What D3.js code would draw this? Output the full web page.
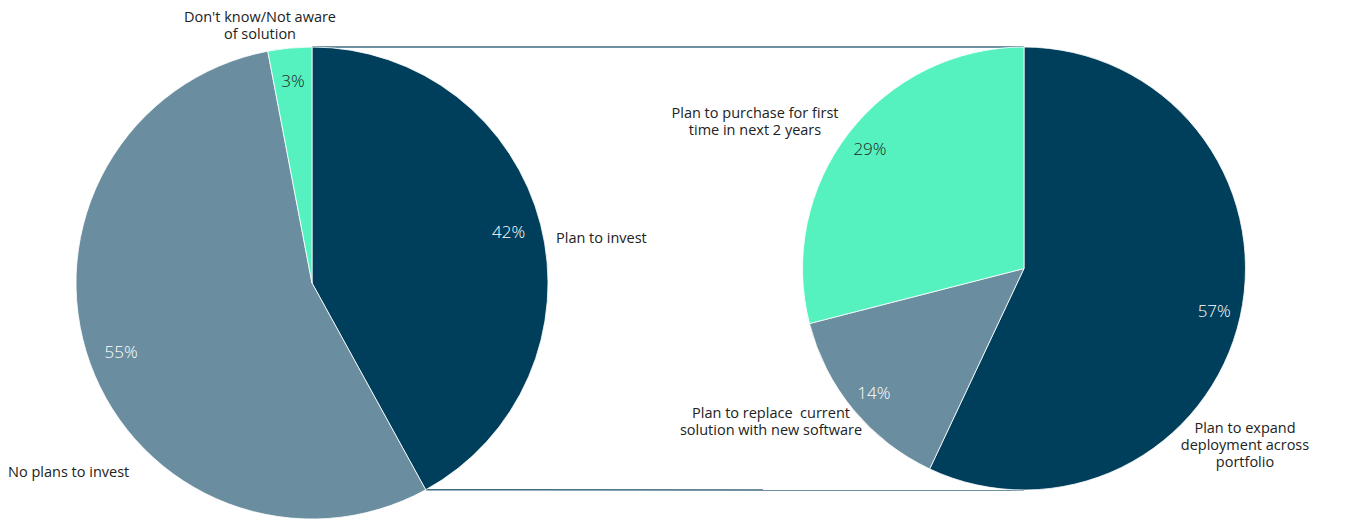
<!DOCTYPE html>
<html>
<head>
<meta charset="utf-8">
<script src="https://cdnjs.cloudflare.com/ajax/libs/d3/7.8.5/d3.min.js"></script>
<style>
  body { margin: 0; background: #fff; }
  svg { display: block; font-family: "Open Sans", sans-serif; }
  .lbl { font-size: 14.5px; fill: #222; white-space: pre; }
  .pct { font-size: 17px; font-weight: 300; }
</style>
</head>
<body>
<svg id="chart" width="1346" height="520"></svg>
<script>
// left pie: overall intention
const mainCategories = ["Plan to invest", "No plans to invest", "Don't know/Not aware of solution"];
const mainValues = [42, 55, 3];
// right pie: breakdown of "Plan to invest"
const detailCategories = ["Plan to expand deployment across portfolio", "Plan to replace  current solution with new software", "Plan to purchase for first time in next 2 years"];
const detailValues = [57, 14, 29];

const colors = ["#003f5c", "#6a8e9f", "#55f2c0"];
const pctColors = ["#fff", "#fff", "#222"];

const svg = d3.select("#chart");

const LEFT = { cx: 312, cy: 283, r: 236 };
const RIGHT = { cx: 1024, cy: 268.5, r: 221.5 };

const pie = d3.pie().sort(null).value(d => d);

// label layout (text placement for category names), per slice
const mainLabelPos = [
  { x: 556, y: 238, anchor: "start" },
  { x: 8, y: 472, anchor: "start" },
  { x: 260, y: 16.5, anchor: "middle" }
];
const mainLabelLines = [["Plan to invest"], ["No plans to invest"], ["Don't know/Not aware", "of solution"]];
const detailLabelPos = [
  { x: 1245, y: 428, anchor: "middle" },
  { x: 771, y: 413, anchor: "middle" },
  { x: 755, y: 113, anchor: "middle" }
];
const detailLabelLines = [["Plan to expand", "deployment across", "portfolio"], ["Plan to replace  current", "solution with new software"], ["Plan to purchase for first", "time in next 2 years"]];

function drawPie(values, cfg, pctRatio, labelPos, labelLines) {
  const arcs = pie(values);
  const arc = d3.arc().innerRadius(0).outerRadius(cfg.r);
  const pctArc = d3.arc().innerRadius(cfg.r * pctRatio).outerRadius(cfg.r * pctRatio);
  const g = svg.append("g").attr("transform", `translate(${cfg.cx},${cfg.cy})`);

  g.selectAll("path")
    .data(arcs)
    .enter()
    .append("path")
    .attr("d", arc)
    .attr("fill", (d, i) => colors[i])
    .attr("stroke", "#fff")
    .attr("stroke-width", 0.8);

  g.selectAll("text.pct")
    .data(arcs)
    .enter()
    .append("text")
    .attr("class", "pct")
    .attr("transform", d => "translate(" + pctArc.centroid(d) + ")")
    .attr("text-anchor", "middle")
    .attr("dy", "0.35em")
    .attr("fill", (d, i) => pctColors[i])
    .text(d => d.data + "%");

  labelLines.forEach((lines, i) => {
    const t = svg.append("text")
      .attr("class", "lbl")
      .attr("text-anchor", labelPos[i].anchor);
    lines.forEach((ln, j) => {
      t.append("tspan")
        .attr("x", labelPos[i].x)
        .attr("y", labelPos[i].y + j * 17)
        .attr("dy", "0.35em")
        .text(ln);
    });
  });
  return arcs;
}

const mainArcs = drawPie(mainValues, LEFT, 0.86, mainLabelPos, mainLabelLines);
drawPie(detailValues, RIGHT, 0.88, detailLabelPos, detailLabelLines);

// connector lines from the exploded slice to the breakdown pie
const a0 = mainArcs[0].startAngle, a1 = mainArcs[0].endAngle;
const pt = (c, a) => [c.cx + c.r * Math.sin(a), c.cy - c.r * Math.cos(a)];
const top0 = pt(LEFT, a0), bot0 = pt(LEFT, a1);
const connectors = [
  [top0, [RIGHT.cx, RIGHT.cy - RIGHT.r]],
  [bot0, [RIGHT.cx, RIGHT.cy + RIGHT.r]]
];
svg.selectAll("line.conn")
  .data(connectors)
  .enter()
  .insert("line", ":first-child")
  .attr("class", "conn")
  .attr("x1", d => d[0][0]).attr("y1", d => d[0][1])
  .attr("x2", d => d[1][0]).attr("y2", d => d[1][1])
  .attr("stroke", "#3f6b80")
  .attr("stroke-width", 1.5);
</script>
</body>
</html>
